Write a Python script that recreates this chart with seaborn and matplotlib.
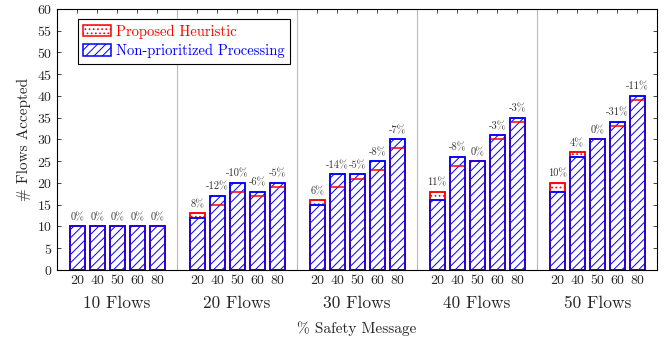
import numpy as np
import pandas as pd
import matplotlib
matplotlib.use("Agg")
import matplotlib.pyplot as plt
import seaborn as sns
from matplotlib.patches import Patch

# =========================
# Data
# =========================
groups = ["10 Flows", "20 Flows", "30 Flows", "40 Flows", "50 Flows"]
safety_pct = ["20", "40", "50", "60", "80"]

proposed = [
    [10, 10, 10, 10, 10],
    [13, 15, 18, 17, 19],
    [16, 19, 21, 23, 28],
    [18, 24, 25, 30, 34],
    [20, 27, 30, 33, 39],
]
non_prioritized = [
    [10, 10, 10, 10, 10],
    [12, 17, 20, 18, 20],
    [15, 22, 22, 25, 30],
    [16, 26, 25, 31, 35],
    [18, 26, 30, 34, 40],
]
diff_labels = [
    ["0%", "0%", "0%", "0%", "0%"],
    ["8%", "-12%", "-10%", "-6%", "-5%"],
    ["6%", "-14%", "-5%", "-8%", "-7%"],
    ["11%", "-8%", "0%", "-3%", "-3%"],
    ["10%", "4%", "0%", "-31%", "-11%"],
]

# long table, one slot per bar, 6 slots per group (5 bars + gap)
rows = []
for gi, g in enumerate(groups):
    for bi, p in enumerate(safety_pct):
        rows.append({
            "group": g,
            "pct": p,
            "slot": 6 * gi + bi + 1,
            "proposed": proposed[gi][bi],
            "nonprio": non_prioritized[gi][bi],
            "label": diff_labels[gi][bi],
        })
df = pd.DataFrame(rows)

# =========================
# Style
# =========================
sns.set_style("ticks")
plt.rcParams["font.family"] = ["cmr10", "DejaVu Serif"]
plt.rcParams["axes.formatter.use_mathtext"] = True
plt.rcParams["hatch.linewidth"] = 0.7

fig = plt.figure(figsize=(6.72, 3.40), dpi=100)
ax = fig.add_axes([0.085, 0.206, 0.893, 0.768])

# group separators
for gi in range(1, len(groups)):
    ax.axvline(6 * gi, color="#bbbbbb", lw=0.8, zorder=0)

common = dict(native_scale=True, width=0.75, errorbar=None, saturation=1, ax=ax)

# proposed heuristic (red, dotted)
sns.barplot(data=df, x="slot", y="proposed", color="white", edgecolor="red",
            linewidth=1.1, hatch="....", **common)
# non-prioritized (blue, hatched)
sns.barplot(data=df, x="slot", y="nonprio", color="white", edgecolor="blue",
            linewidth=1.1, hatch="////", **common)
# outlines again so lower red tops show through
sns.barplot(data=df, x="slot", y="proposed", fill=False, edgecolor="red",
            linewidth=1.1, **common)
sns.barplot(data=df, x="slot", y="nonprio", fill=False, edgecolor="blue",
            linewidth=1.1, **common)

# percentage labels
for _, r in df.iterrows():
    top = max(r["proposed"], r["nonprio"])
    ax.annotate(r["label"], (r["slot"], top), xytext=(0, 3), textcoords="offset points",
                ha="center", va="bottom", fontsize=7.5, color="#333333")

# axes
ax.set_xlim(0, 6 * len(groups))
ax.set_ylim(0, 60)
ax.set_yticks(np.arange(0, 61, 5))
ax.set_xticks(df["slot"])
ax.set_xticklabels(df["pct"], fontsize=10)
ax.tick_params(axis="y", labelsize=10)
ax.tick_params(direction="in", top=True, right=True, length=3, width=0.6)
for s in ax.spines.values():
    s.set_linewidth(0.8)
    s.set_color("black")

ax.set_xlabel("% Safety Message", fontsize=11, labelpad=25)
ax.set_ylabel("# Flows Accepted", fontsize=11, labelpad=4)

# group labels below tick labels
for gi, g in enumerate(groups):
    ax.text(6 * gi + 3, -0.097, g, transform=ax.get_xaxis_transform(),
            ha="center", va="top", fontsize=12.5)

legend_handles = [
    Patch(facecolor="white", edgecolor="red", hatch="....", linewidth=1.1),
    Patch(facecolor="white", edgecolor="blue", hatch="////", linewidth=1.1),
]
leg = ax.legend(legend_handles, ["Proposed Heuristic", "Non-prioritized Processing"],
                loc="upper left", bbox_to_anchor=(0.022, 0.99), fontsize=10.5,
                labelcolor=["red", "blue"], fancybox=False, framealpha=1,
                edgecolor="black", handlelength=1.9, handleheight=0.8,
                borderpad=0.4, labelspacing=0.35, handletextpad=0.3)
leg.get_frame().set_linewidth(0.8)

fig.savefig("out.png", dpi=100)
